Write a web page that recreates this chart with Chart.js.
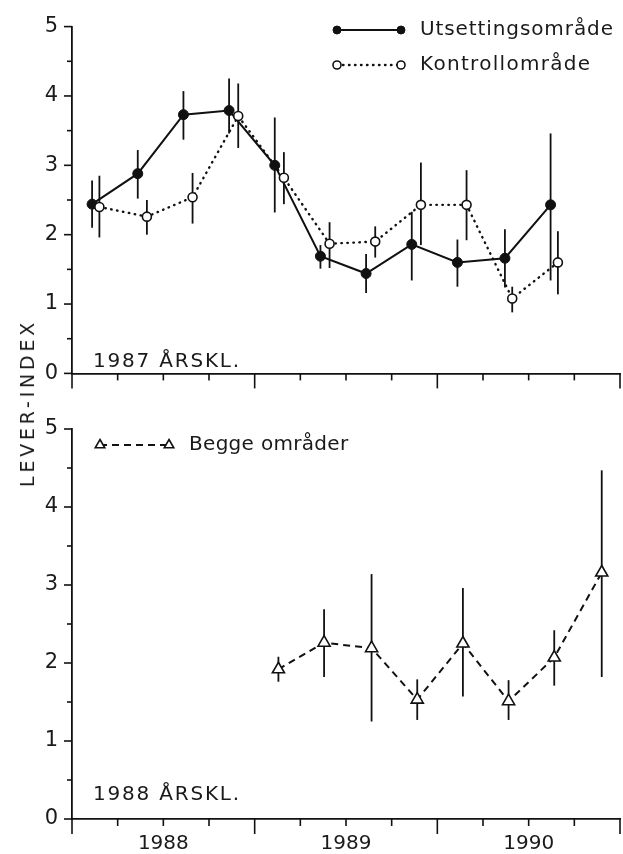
<!DOCTYPE html>
<html>
<head>
<meta charset="UTF-8">
<title>Lever-index, 1987 og 1988 årsklasse</title>
<style type="text/css">
body { margin: 0; background: #fff; overflow: hidden; }
#wrap { position: relative; width: 623px; height: 854px; }
#wrap canvas { position: absolute; left: 0; }
#topChart { top: 0; }
#bottomChart { top: 400px; }
/* y-akse tittel, felles for begge panel */
#yTitle {
	position: absolute; left: 27px; top: 403px;
	transform: translate(-50%, -50%) rotate(-90deg);
	font: 19px "DejaVu Sans", sans-serif; letter-spacing: 3.8px;
	color: #1a1a1a; white-space: nowrap;
}
</style>
</head>
<body>
<div id="wrap">
	<canvas id="topChart" width="623" height="400"></canvas>
	<canvas id="bottomChart" width="623" height="454"></canvas>
	<div id="yTitle">LEVER-INDEX</div>
</div>

<script src="https://cdn.jsdelivr.net/npm/chart.js@4"></script>
<script>
// 1987 årsklasse - Utsettingsområde
const utsX  = [1988.11, 1988.36, 1988.61, 1988.86, 1989.11, 1989.36, 1989.61, 1989.86, 1990.11, 1990.37, 1990.62];
const utsY  = [2.44, 2.88, 3.73, 3.79, 3.00, 1.69, 1.44, 1.86, 1.60, 1.66, 2.43];
const utsLo = [2.10, 2.52, 3.37, 3.46, 2.32, 1.51, 1.16, 1.34, 1.25, 1.24, 1.34];
const utsHi = [2.78, 3.22, 4.07, 4.25, 3.69, 1.85, 1.72, 2.33, 1.93, 2.08, 3.46];

// 1987 årsklasse - Kontrollområde
const kontX  = [1988.15, 1988.41, 1988.66, 1988.91, 1989.16, 1989.41, 1989.66, 1989.91, 1990.16, 1990.41, 1990.66];
const kontY  = [2.40, 2.26, 2.54, 3.71, 2.82, 1.87, 1.90, 2.43, 2.43, 1.08, 1.60];
const kontLo = [1.96, 2.00, 2.16, 3.25, 2.44, 1.52, 1.67, 1.85, 1.92, 0.88, 1.14];
const kontHi = [2.85, 2.50, 2.89, 4.18, 3.19, 2.18, 2.12, 3.04, 2.93, 1.25, 2.05];

// 1988 årsklasse - begge områder
const beggeX  = [1989.13, 1989.38, 1989.64, 1989.89, 1990.14, 1990.39, 1990.64, 1990.90];
const beggeY  = [1.92, 2.26, 2.19, 1.53, 2.25, 1.51, 2.07, 3.16];
const beggeLo = [1.76, 1.82, 1.25, 1.27, 1.57, 1.27, 1.71, 1.82];
const beggeHi = [2.08, 2.69, 3.14, 1.79, 2.96, 1.78, 2.42, 4.47];

// akser
const yTickValues = [0, 1, 2, 3, 4, 5];
const yearTickValues = [1988.5, 1989.5, 1990.5];
const yearLabels = ['1988', '1989', '1990'];

const FONT = '"DejaVu Sans", sans-serif';
const INK = '#111';

function pts(xs, ys) {
	return xs.map(function(x, i) { return {x: x, y: ys[i]}; });
}

// feilstolper (loddrette streker)
const errorBars = {
	id: 'errorBars',
	beforeDatasetsDraw(chart) {
		const ctx = chart.ctx, xs = chart.scales.x, ys = chart.scales.y;
		ctx.save();
		ctx.strokeStyle = INK;
		ctx.lineWidth = 1.8;
		chart.data.datasets.forEach(function(ds) {
			if (!ds.lo) return;
			ds.data.forEach(function(p, i) {
				const px = xs.getPixelForValue(p.x);
				ctx.beginPath();
				ctx.moveTo(px, ys.getPixelForValue(ds.lo[i]));
				ctx.lineTo(px, ys.getPixelForValue(ds.hi[i]));
				ctx.stroke();
			});
		});
		ctx.restore();
	}
};

// små streker på aksene (kvartal / halve enheter)
const axisTicks = {
	id: 'axisTicks',
	afterDraw(chart) {
		const ctx = chart.ctx, xs = chart.scales.x, ys = chart.scales.y, a = chart.chartArea;
		ctx.save();
		ctx.strokeStyle = INK;
		ctx.lineWidth = 1.6;
		for (let k = 0; k <= 10; k++) {
			const py = ys.getPixelForValue(k / 2);
			const len = k % 2 === 0 ? 8 : 5;
			ctx.beginPath(); ctx.moveTo(a.left - len, py); ctx.lineTo(a.left, py); ctx.stroke();
		}
		for (let q = 0; q <= 12; q++) {
			const px = xs.getPixelForValue(1988 + q / 4);
			const len = q % 4 === 0 ? 15 : 7;
			ctx.beginPath(); ctx.moveTo(px, a.bottom); ctx.lineTo(px, a.bottom + len); ctx.stroke();
		}
		ctx.restore();
	}
};

// tekst i panelet + egen tegnforklaring
const panelNotes = {
	id: 'panelNotes',
	afterDraw(chart, args, opts) {
		const ctx = chart.ctx;
		ctx.save();
		ctx.fillStyle = '#1a1a1a';
		ctx.font = '20px ' + FONT;
		ctx.letterSpacing = '1.8px';
		ctx.textBaseline = 'alphabetic';
		ctx.fillText(opts.text, opts.tx, opts.ty);

		ctx.textBaseline = 'middle';
		chart.data.datasets.forEach(function(ds, i) {
			const y = opts.rows[i];
			ctx.strokeStyle = INK;
			ctx.lineWidth = ds.borderWidth;
			ctx.lineCap = ds.borderCapStyle || 'butt';
			ctx.setLineDash(ds.borderDash || []);
			ctx.beginPath(); ctx.moveTo(opts.x1, y); ctx.lineTo(opts.x2, y); ctx.stroke();
			ctx.setLineDash([]);
			ctx.lineCap = 'butt';
			[opts.x1, opts.x2].forEach(function(x) {
				ctx.fillStyle = ds.pointBackgroundColor;
				ctx.strokeStyle = ds.pointBorderColor;
				ctx.lineWidth = ds.pointBorderWidth;
				Chart.helpers.drawPoint(ctx, {pointStyle: ds.pointStyle, radius: opts.r, rotation: 0, borderWidth: ds.pointBorderWidth}, x, y);
			});
			ctx.fillStyle = '#1a1a1a';
			ctx.letterSpacing = opts.spacing[i] + 'px';
			ctx.fillText(ds.label, opts.lx, y);
		});
		ctx.restore();
	}
};

function makePanel(id, datasets, xAxisHeight, showYears, padTop, notes) {
	return new Chart(document.getElementById(id), {
		type: 'line',
		data: { datasets: datasets },
		plugins: [errorBars, axisTicks, panelNotes],
		options: {
			responsive: false,
			animation: false,
			events: [],
			layout: { autoPadding: false, padding: { top: padTop, right: 3, left: 0, bottom: 0 } },
			scales: {
				x: {
					type: 'linear', min: 1988, max: 1991,
					afterFit: function(s) { s.height = xAxisHeight; },
					afterBuildTicks: function(s) { s.ticks = yearTickValues.map(function(v) { return {value: v}; }); },
					ticks: {
						display: showYears,
						padding: 13,
						color: '#1a1a1a',
						font: { family: FONT, size: 20 },
						callback: function(v, i) { return yearLabels[i]; }
					},
					grid: { display: false, drawTicks: false },
					border: { display: true, color: INK, width: 1.8 }
				},
				y: {
					min: 0, max: 5,
					afterFit: function(s) { s.width = 72; },
					afterBuildTicks: function(s) { s.ticks = yTickValues.map(function(v) { return {value: v}; }); },
					ticks: { padding: 14, color: '#1a1a1a', font: { family: FONT, size: 21 } },
					grid: { display: false, drawTicks: false },
					border: { display: true, color: INK, width: 1.8 }
				}
			},
			plugins: {
				legend: { display: false },
				tooltip: { enabled: false },
				panelNotes: notes
			}
		}
	});
}

makePanel('topChart', [
	{
		label: 'Utsettingsområde', data: pts(utsX, utsY), lo: utsLo, hi: utsHi,
		borderColor: INK, borderWidth: 2, tension: 0,
		pointStyle: 'circle', pointRadius: 5, pointBackgroundColor: INK, pointBorderColor: INK, pointBorderWidth: 1,
		order: 1
	},
	{
		label: 'Kontrollområde', data: pts(kontX, kontY), lo: kontLo, hi: kontHi,
		borderColor: INK, borderWidth: 2.4, borderDash: [0.5, 5.5], borderCapStyle: 'round', tension: 0,
		pointStyle: 'circle', pointRadius: 4.5, pointBackgroundColor: '#fff', pointBorderColor: INK, pointBorderWidth: 1.6,
		order: 0
	}
], 16, false, 22, { text: '1987 ÅRSKL.', tx: 93, ty: 367, x1: 337, x2: 401, lx: 420, rows: [30, 65], r: 4, spacing: [0.9, 1.3] });

makePanel('bottomChart', [
	{
		label: 'Begge områder', data: pts(beggeX, beggeY), lo: beggeLo, hi: beggeHi,
		borderColor: INK, borderWidth: 2, borderDash: [7, 5], tension: 0,
		pointStyle: 'triangle', pointRadius: 7, pointBackgroundColor: '#fff', pointBorderColor: INK, pointBorderWidth: 1.6
	}
], 35, true, 29, { text: '1988 ÅRSKL.', tx: 93, ty: 400, x1: 100, x2: 169, lx: 189, rows: [45], r: 5.5, spacing: [0.3] });
</script>
</body>
</html>
